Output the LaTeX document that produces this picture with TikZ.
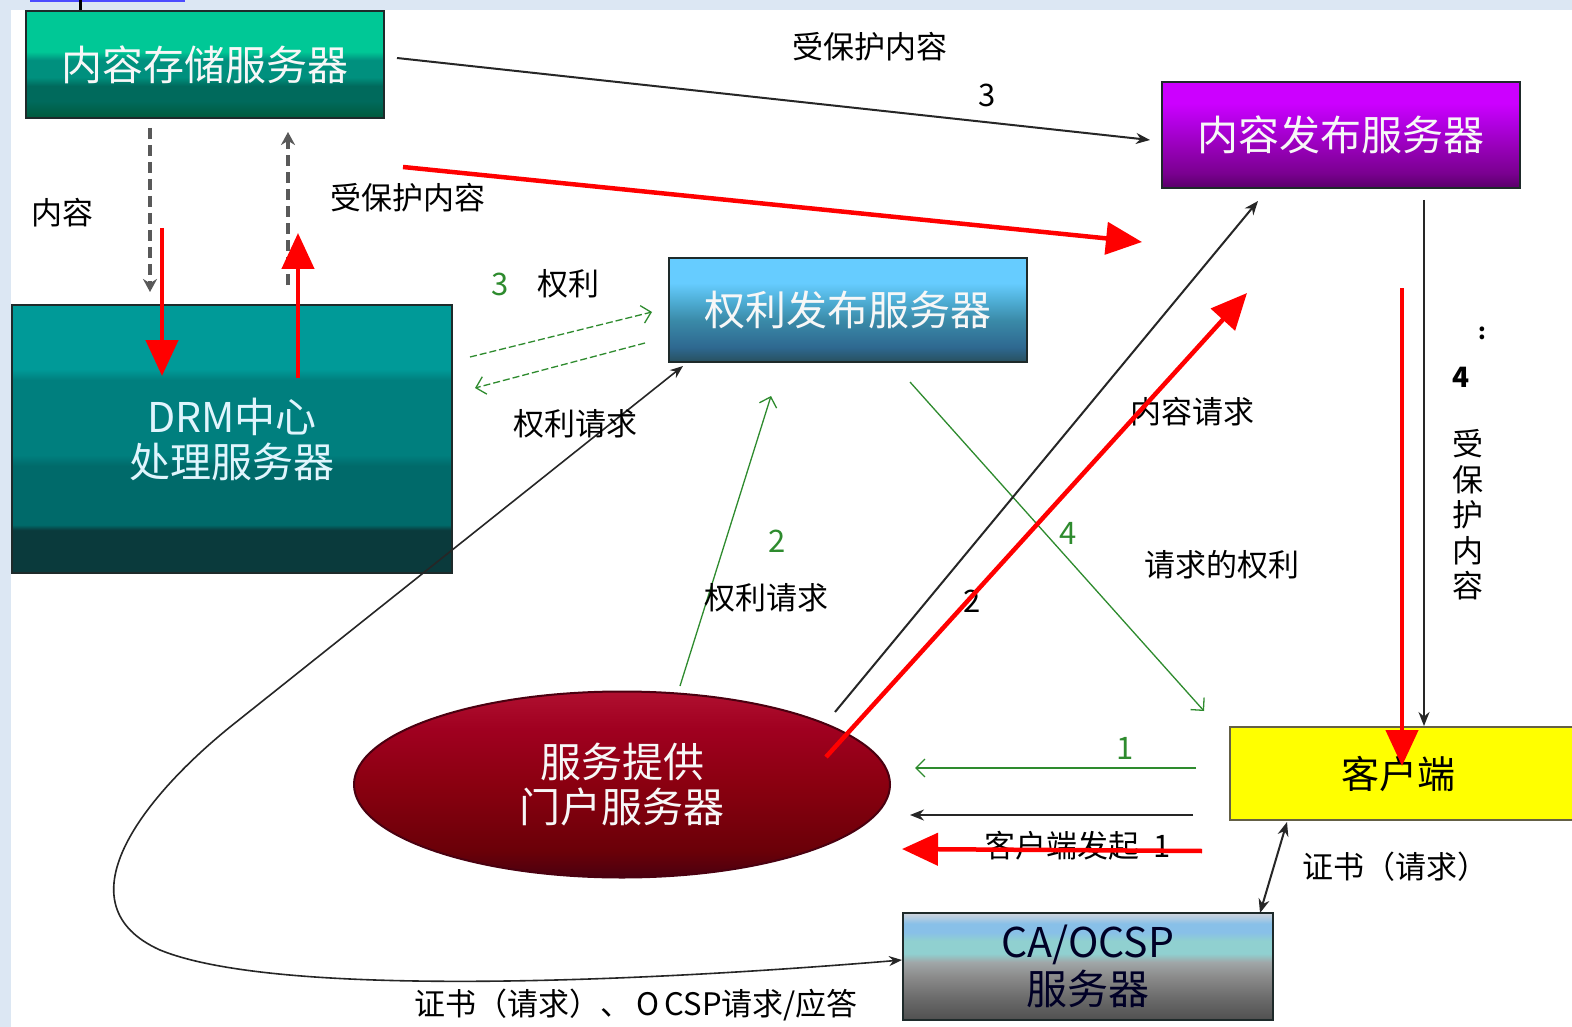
\documentclass[tikz,border=0pt]{standalone}
\usepackage{fontspec}
\setmainfont{Noto Sans CJK SC}
\usetikzlibrary{arrows.meta,shapes.geometric}
\definecolor{bgblue}{HTML}{DCE7F3}
\definecolor{boxline}{HTML}{1E2A2A}
\definecolor{grn}{HTML}{2E8B2E}
\definecolor{redl}{HTML}{FF0000}
\definecolor{s1}{HTML}{00C896}\definecolor{s2}{HTML}{00907E}\definecolor{s3}{HTML}{006A5C}\definecolor{s4}{HTML}{005A3C}
\definecolor{d1}{HTML}{009A98}\definecolor{d2}{HTML}{007F7E}\definecolor{d3}{HTML}{006A6A}\definecolor{d4}{HTML}{0A3A3C}
\definecolor{r1}{HTML}{66CCFF}\definecolor{r2}{HTML}{50B0D8}\definecolor{r3}{HTML}{3A8AA8}\definecolor{r4}{HTML}{2E6890}\definecolor{r5}{HTML}{28505E}
\definecolor{p1}{HTML}{CC00FF}\definecolor{p2}{HTML}{B000E0}\definecolor{p3}{HTML}{9900BB}\definecolor{p4}{HTML}{7A0090}\definecolor{p5}{HTML}{580068}
\definecolor{e1}{HTML}{B01030}\definecolor{e2}{HTML}{A00020}\definecolor{e3}{HTML}{8A0010}\definecolor{e4}{HTML}{6A0008}\definecolor{e5}{HTML}{4A0010}
\definecolor{c1}{HTML}{D0D4DC}\definecolor{c2}{HTML}{88C0E8}\definecolor{c3}{HTML}{90D0D0}\definecolor{c4}{HTML}{A0A6A8}\definecolor{c5}{HTML}{8A8A8A}\definecolor{c6}{HTML}{6A6A6A}\definecolor{c7}{HTML}{505050}
\definecolor{yel}{HTML}{FFFF00}
\pgfdeclareverticalshading{storeshade}{100bp}{color(0bp)=(s4); color(25bp)=(s4); color(33bp)=(s3); color(40bp)=(s3); color(44bp)=(s2); color(52bp)=(s2); color(56bp)=(s1); color(100bp)=(s1)}
\pgfdeclareverticalshading{drmshade}{100bp}{color(0bp)=(d4); color(25bp)=(d4); color(33bp)=(d4); color(34bp)=(d3); color(45bp)=(d3); color(47bp)=(d2); color(61bp)=(d2); color(63bp)=(d1); color(100bp)=(d1)}
\pgfdeclareverticalshading{rightshade}{100bp}{color(0bp)=(r5); color(25bp)=(r5); color(32bp)=(r4); color(45bp)=(r3); color(55bp)=(r2); color(63bp)=(r1); color(100bp)=(r1)}
\pgfdeclareverticalshading{pubshade}{100bp}{color(0bp)=(p5); color(25bp)=(p5); color(32bp)=(p4); color(45bp)=(p3); color(55bp)=(p2); color(65bp)=(p1); color(100bp)=(p1)}
\pgfdeclareverticalshading{ellshade}{100bp}{color(0bp)=(e5); color(25bp)=(e5); color(32bp)=(e4); color(50bp)=(e3); color(65bp)=(e2); color(75bp)=(e1); color(100bp)=(e1)}
\pgfdeclareverticalshading{cashade}{100bp}{color(0bp)=(c7); color(25bp)=(c7); color(35bp)=(c6); color(45bp)=(c5); color(52bp)=(c4); color(56bp)=(c3); color(62bp)=(c3); color(66bp)=(c2); color(70bp)=(c2); color(75bp)=(c1); color(100bp)=(c1)}
\newcommand\bxfont{\fontsize{41}{47}\selectfont}
\newcommand\lbfont{\fontsize{31}{35}\selectfont}
\begin{document}
\begin{tikzpicture}[x=1pt,y=-1pt,
  box/.style={draw=boxline, line width=2pt, inner sep=0pt, font=\bxfont, text=white!94!gray, align=center},
  lbl/.style={font=\lbfont, text=black, inner sep=0pt, align=center},
  glbl/.style={font=\lbfont, text=grn, inner sep=0pt},
  blk/.style={draw=black!85, line width=2pt},
  bhead/.style={-{Stealth[length=14pt,width=11pt]}},
  dsh/.style={draw=black!65, line width=3.6pt, dash pattern=on 11pt off 6pt},
  gline/.style={draw=grn, line width=1.3pt},
  ghead/.style={-{Straight Barb[length=9pt,width=18pt,line width=1.3pt]}},
  redarr/.style={draw=redl, line width=4.5pt, -{Triangle[length=36pt,width=32pt]}},
]
\useasboundingbox (0,0) rectangle (1572,1027);
% background
\fill[bgblue] (0,0) rectangle (1572,1027);
\fill[white] (11,10) rectangle (1572,1027);
\fill[blue!70!white] (30,0) rectangle (185,2);
\draw[black, line width=3pt] (80,0) -- (80,10);

% nodes
\node[box, shading=storeshade, minimum width=358pt, minimum height=107pt] (store) at (205,64.5) {内容存储服务器};
\node[box, shading=drmshade, minimum width=440pt, minimum height=268pt, text=white!88!cyan] (drm) at (232,439) {DRM中心\\[-2pt]处理服务器};
\node[box, shading=rightshade, minimum width=358pt, minimum height=104pt] (rights) at (848,310) {权利发布服务器};
\node[box, shading=pubshade, minimum width=358pt, minimum height=106pt] (pub) at (1341,135) {内容发布服务器};
\node[box, ellipse, shading=ellshade, draw=e5, minimum width=536pt, minimum height=186pt] (portal) at (622,784.5) {服务提供\\[-2pt]门户服务器};
\node[box, fill=yel, draw=black!70!yellow, minimum width=344pt, minimum height=93pt, text=black, font=\fontsize{38}{44}\selectfont] (client) at (1402,773.5) {\hspace*{-8pt}客户端};
\node[box, shading=cashade, minimum width=370pt, minimum height=107pt, text=black!85!blue] (ca) at (1088,966.5) {CA/OCSP\\[0pt]服务器};

% coordinates
\coordinate (ds1) at (150,128); \coordinate (ds2) at (150,292);
\coordinate (us1) at (288,285); \coordinate (us2) at (288,132);
\coordinate (rd1) at (162,228); \coordinate (rd2) at (162,376);
\coordinate (ru1) at (298,378); \coordinate (ru2) at (298,233);
\coordinate (t3a) at (397,58); \coordinate (t3b) at (1150,140);
\coordinate (rh1) at (403,167); \coordinate (rh2) at (1142,242);
\coordinate (g3a) at (470,357); \coordinate (g3b) at (652,312);
\coordinate (g3c) at (645,343); \coordinate (g3d) at (475,388);
\coordinate (cv1) at (683,366); \coordinate (cv2) at (230,727); \coordinate (cv3) at (160,950); \coordinate (cv4) at (902,960);
\coordinate (g2a) at (680,686); \coordinate (g2b) at (771,396);
\coordinate (g4a) at (910,382); \coordinate (g4b) at (1204,711);
\coordinate (cr1) at (835,712); \coordinate (cr2) at (1258,201);
\coordinate (rr1) at (826,757); \coordinate (rr2) at (1247,293);
\coordinate (pv1) at (1424,200); \coordinate (pv2) at (1424,726);
\coordinate (rv1) at (1402,288); \coordinate (rv2) at (1402,766);
\coordinate (g1a) at (1196,768); \coordinate (g1b) at (915,768);
\coordinate (b1a) at (1193,815); \coordinate (b1b) at (910,815);
\coordinate (rl1) at (1202,851); \coordinate (rl2) at (902,849);
\coordinate (cc1) at (1287,822); \coordinate (cc2) at (1260,913);

% connectors
\draw[dsh, -{Stealth[length=13pt,width=14pt]}] (ds1) -- (ds2);
\draw[dsh, -{Stealth[length=13pt,width=14pt]}] (us1) -- (us2);
\draw[blk, bhead] (t3a) -- (t3b);
\draw[gline, ghead, dash pattern=on 7pt off 3pt] (g3a) -- (g3b);
\draw[gline, ghead, dash pattern=on 7pt off 3pt] (g3c) -- (g3d);
\draw[blk, line width=1.6pt, {Stealth[length=13pt,width=10pt]}-{Stealth[length=13pt,width=10pt]}] (cv1) -- (cv2) .. controls (140,800) and (60,905) .. (cv3) .. controls (270,995) and (600,985) .. (cv4);
\draw[gline, ghead] (g2a) -- (g2b);
\draw[gline, ghead] (g4a) -- (g4b);
\draw[blk, bhead] (cr1) -- (cr2);
\draw[blk, bhead] (pv1) -- (pv2);
\draw[gline, ghead] (g1a) -- (g1b);
\draw[blk, bhead] (b1a) -- (b1b);
\draw[blk, {Stealth[length=14pt,width=11pt]}-{Stealth[length=14pt,width=11pt]}] (cc1) -- (cc2);

% labels
\node[lbl] (l1) at (62,213) {内容};
\node[lbl] (l2) at (408,198) {受保护内容};
\node[lbl] (l3) at (870,47) {受保护内容};
\node[lbl] (l4) at (987,95) {3};
\node[glbl] (l5) at (500,284) {3};
\node[lbl] (l6) at (568,284) {权利};
\node[lbl] (l7) at (575,424) {权利请求};
\node[glbl] (l8) at (777,541) {2};
\node[lbl] (l9) at (766,598) {权利请求};
\node[lbl] (l10) at (1192,412) {内容请求};
\node[glbl] (l11) at (1068,533) {4};
\node[lbl] (l12) at (1222,565) {请求的权利};
\node[lbl] (l13) at (972,601) {2};
\node[lbl, font=\fontsize{22}{24}\selectfont\bfseries] (l14) at (1482,333) {:};
\node[lbl, font=\fontsize{28}{30}\selectfont\bfseries] (l15) at (1461,377) {4};
\node[lbl, font=\fontsize{31}{35.5}\selectfont] (l16) at (1468,515) {受\\保\\护\\内\\容};
\node[glbl] (l17) at (1125,748) {1};
\node[lbl] (l18) at (1078,846) {客户端发起\ \ 1};
\node[lbl] (l19) at (1395,867) {证书（请求）};
\node[lbl] (l20) at (636,1005) {证书（请求）、\,O\,CSP请求/应答};

% red arrows
\draw[redarr] (rd1) -- (rd2);
\draw[redarr] (ru1) -- (ru2);
\draw[redarr] (rh1) -- (rh2);
\draw[redarr] (rr1) -- (rr2);
\draw[redarr] (rv1) -- (rv2);
\draw[redarr] (rl1) -- (rl2);
\end{tikzpicture}
\end{document}
